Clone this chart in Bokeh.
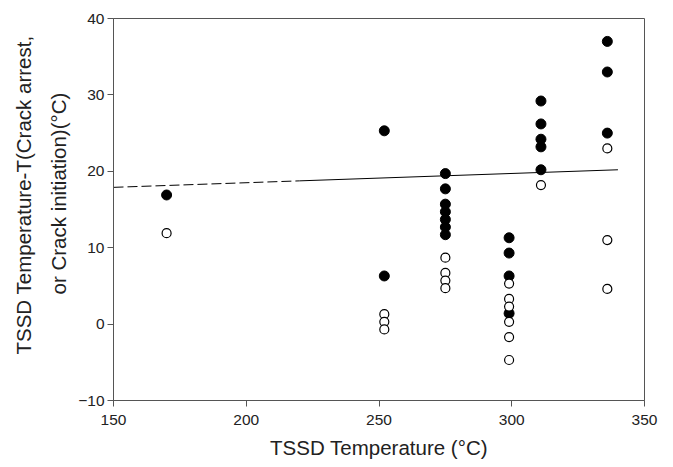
import numpy as np
from bokeh.plotting import figure
from bokeh.models import Range1d, FixedTicker, Title
from bokeh.embed import file_html
from bokeh.resources import INLINE

# Data
arrest_T = [170, 252, 252, 275, 275, 275, 275, 275, 275, 275,
            299, 299, 299, 299, 311, 311, 311, 311, 311, 336, 336, 336]
arrest_dT = [16.9, 25.3, 6.3, 19.7, 17.7, 15.7, 14.7, 13.7, 12.7, 11.7,
             11.3, 9.3, 6.3, 1.4, 29.2, 26.2, 24.2, 23.2, 20.2, 37.0, 33.0, 25.0]
init_T = [170, 252, 252, 252, 275, 275, 275, 275,
          299, 299, 299, 299, 299, 299, 311, 336, 336, 336]
init_dT = [11.9, 1.3, 0.3, -0.7, 8.7, 6.7, 5.7, 4.7,
           5.3, 3.3, 2.3, 0.3, -1.7, -4.7, 18.2, 23.0, 11.0, 4.6]

trend_T = [150, 340]
trend_dT = [17.9, 20.2]
dash_end_T = 220

x_ticks = [150, 200, 250, 300, 350]
y_ticks = [-10, 0, 10, 20, 30, 40]

x_title = "TSSD Temperature (°C)"
y_title_lines = ["TSSD Temperature-T(Crack arrest,", "or Crack initiation)(°C)"]

p = figure(frame_width=531, frame_height=382, output_backend="svg",
           toolbar_location=None,
           x_range=Range1d(150, 350), y_range=Range1d(-10, 40),
           min_border_left=113, min_border_right=20,
           min_border_top=18, min_border_bottom=50)

p.background_fill_color = "white"
p.border_fill_color = "white"
p.outline_line_color = "#555555"
p.outline_line_width = 1
p.grid.visible = False

split_dT = float(np.interp(dash_end_T, trend_T, trend_dT))
p.line([trend_T[0], dash_end_T], [trend_dT[0], split_dT],
       line_color="black", line_width=1, line_dash="10 4")
p.line([dash_end_T, trend_T[1]], [split_dT, trend_dT[1]],
       line_color="black", line_width=1)

p.scatter(arrest_T, arrest_dT, size=10, marker="circle",
          fill_color="black", line_color="black", line_width=1)
p.scatter(init_T, init_dT, size=9, marker="circle",
          fill_color="white", line_color="black", line_width=1.2)

for ax in (p.xaxis[0], p.yaxis[0]):
    ax.axis_line_color = "#555555"
    ax.major_tick_line_color = "#555555"
    ax.minor_tick_line_color = None
    ax.major_tick_out = 6
    ax.major_tick_in = 0
    ax.major_label_text_font = "Liberation Sans"
    ax.major_label_text_font_size = "15.5px"
    ax.major_label_text_color = "#222222"
    ax.axis_label_text_font = "Liberation Sans"
    ax.axis_label_text_font_size = "20.5px"
    ax.axis_label_text_font_style = "normal"
    ax.axis_label_text_color = "#222222"

p.xaxis.ticker = FixedTicker(ticks=x_ticks)
p.yaxis.ticker = FixedTicker(ticks=y_ticks)
p.xaxis.major_label_standoff = 8
p.yaxis.major_label_standoff = 3
p.xaxis.axis_label = x_title
p.xaxis.axis_label_standoff = 8

# y-axis title: two vertical lines, sitting above the frame centre as in the reference
inner = Title(text=y_title_lines[1], align="left", offset=106, standoff=12,
              text_font="Liberation Sans", text_font_size="20.5px",
              text_font_style="normal", text_color="#222222")
outer = Title(text=y_title_lines[0], align="left", offset=46, standoff=8,
              text_font="Liberation Sans", text_font_size="20.5px",
              text_font_style="normal", text_color="#222222")
p.add_layout(inner, "left")
p.add_layout(outer, "left")

open("out.html", "w").write(file_html(p, INLINE))
